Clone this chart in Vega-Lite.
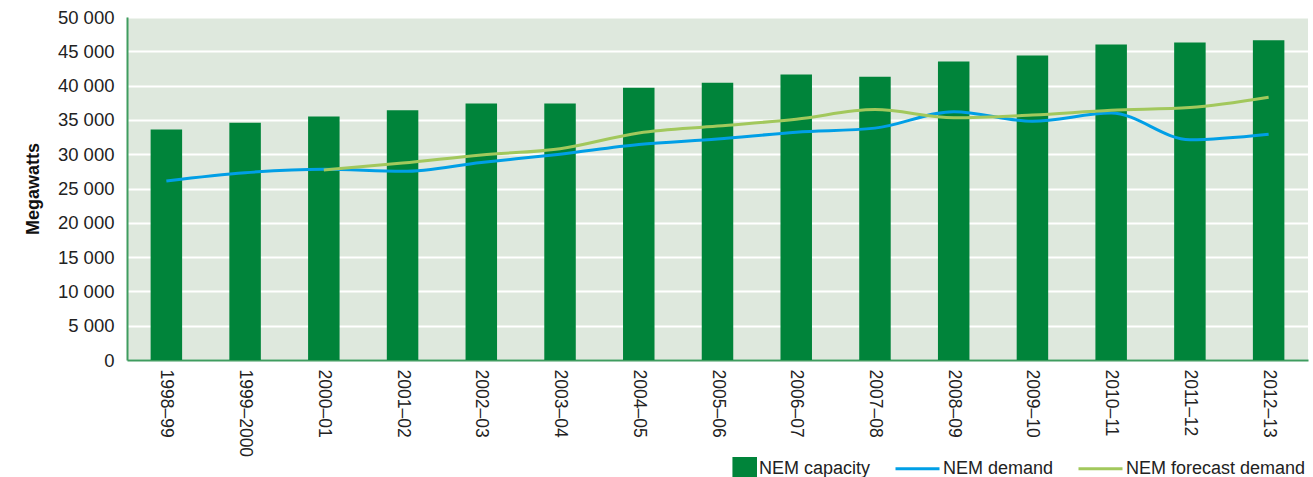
{
  "$schema": "https://vega.github.io/schema/vega-lite/v6.json",
  "width": 1181,
  "height": 343,
  "autosize": {"type": "none"},
  "padding": {"left": 127, "top": 17, "right": 5, "bottom": 117},
  "background": "white",
  "config": {
    "font": "Liberation Sans",
    "view": {"fill": "#dee8dd", "stroke": null}
  },
  "data": {
    "values": [
      {"year": "1998–99", "series": "NEM capacity", "value": 33600},
      {"year": "1999–2000", "series": "NEM capacity", "value": 34600},
      {"year": "2000–01", "series": "NEM capacity", "value": 35500},
      {"year": "2001–02", "series": "NEM capacity", "value": 36400},
      {"year": "2002–03", "series": "NEM capacity", "value": 37400},
      {"year": "2003–04", "series": "NEM capacity", "value": 37400},
      {"year": "2004–05", "series": "NEM capacity", "value": 39700},
      {"year": "2005–06", "series": "NEM capacity", "value": 40400},
      {"year": "2006–07", "series": "NEM capacity", "value": 41600},
      {"year": "2007–08", "series": "NEM capacity", "value": 41300},
      {"year": "2008–09", "series": "NEM capacity", "value": 43500},
      {"year": "2009–10", "series": "NEM capacity", "value": 44400},
      {"year": "2010–11", "series": "NEM capacity", "value": 46000},
      {"year": "2011–12", "series": "NEM capacity", "value": 46300},
      {"year": "2012–13", "series": "NEM capacity", "value": 46600},
      {"year": "1998–99", "series": "NEM demand", "value": 26100},
      {"year": "1999–2000", "series": "NEM demand", "value": 27300},
      {"year": "2000–01", "series": "NEM demand", "value": 27800},
      {"year": "2001–02", "series": "NEM demand", "value": 27500},
      {"year": "2002–03", "series": "NEM demand", "value": 28800},
      {"year": "2003–04", "series": "NEM demand", "value": 30000},
      {"year": "2004–05", "series": "NEM demand", "value": 31400},
      {"year": "2005–06", "series": "NEM demand", "value": 32200},
      {"year": "2006–07", "series": "NEM demand", "value": 33200},
      {"year": "2007–08", "series": "NEM demand", "value": 33800},
      {"year": "2008–09", "series": "NEM demand", "value": 36200},
      {"year": "2009–10", "series": "NEM demand", "value": 34800},
      {"year": "2010–11", "series": "NEM demand", "value": 36000},
      {"year": "2011–12", "series": "NEM demand", "value": 32100},
      {"year": "2012–13", "series": "NEM demand", "value": 32900},
      {"year": "2000–01", "series": "NEM forecast demand", "value": 27700},
      {"year": "2001–02", "series": "NEM forecast demand", "value": 28700},
      {"year": "2002–03", "series": "NEM forecast demand", "value": 29900},
      {"year": "2003–04", "series": "NEM forecast demand", "value": 30800},
      {"year": "2004–05", "series": "NEM forecast demand", "value": 33100},
      {"year": "2005–06", "series": "NEM forecast demand", "value": 34100},
      {"year": "2006–07", "series": "NEM forecast demand", "value": 35100},
      {"year": "2007–08", "series": "NEM forecast demand", "value": 36500},
      {"year": "2008–09", "series": "NEM forecast demand", "value": 35300},
      {"year": "2009–10", "series": "NEM forecast demand", "value": 35700},
      {"year": "2010–11", "series": "NEM forecast demand", "value": 36400},
      {"year": "2011–12", "series": "NEM forecast demand", "value": 36800},
      {"year": "2012–13", "series": "NEM forecast demand", "value": 38300}
    ]
  },
  "encoding": {
    "x": {
      "field": "year", "type": "nominal", "sort": null,
      "scale": {"paddingInner": 0.6, "paddingOuter": 0.3},
      "axis": {
        "title": null, "labelAngle": 90, "labelFontSize": 17.5, "labelColor": "#222",
        "labelPadding": 9, "ticks": false, "domainColor": "#3f9c5f", "domainWidth": 2,
        "labelFont": "Liberation Sans"
      }
    },
    "y": {
      "field": "value", "type": "quantitative",
      "scale": {"domain": [0, 50000], "nice": false},
      "axis": {
        "title": "Megawatts", "titleFontSize": 18, "titleFontWeight": "bold", "titleColor": "#111",
        "titlePadding": 15, "titleFont": "Liberation Sans",
        "values": [0, 5000, 10000, 15000, 20000, 25000, 30000, 35000, 40000, 45000, 50000],
        "labelExpr": "replace(format(datum.value, ','), ',', ' ')",
        "labelFontSize": 18.5, "labelColor": "#222", "labelPadding": 13, "ticks": false,
        "domainColor": "#3f9c5f", "domainWidth": 2,
        "gridColor": "white", "gridWidth": 2, "gridOpacity": 1, "labelFont": "Liberation Sans"
      }
    },
    "color": {
      "field": "series", "type": "nominal",
      "scale": {
        "domain": ["NEM capacity", "NEM demand", "NEM forecast demand"],
        "range": ["#00843a", "#009fe6", "#a2c85c"]
      },
      "legend": {
        "title": null, "orient": "none", "direction": "horizontal",
        "legendX": 583, "legendY": 428, "padding": 0,
        "symbolSize": 1936, "symbolStrokeWidth": 3, "columnPadding": 18, "labelOffset": 2,
        "labelLimit": 400,
        "labelFontSize": 18, "labelColor": "#222", "labelFont": "Liberation Sans",
        "encode": {
          "symbols": {
            "update": {
              "shape": {"signal": "datum.value === 'NEM capacity' ? 'M0.02,-0.48H1V0.48H0.02Z' : 'M-1,0H1M0,-0.5M0,0.5'"},
              "fill": {"signal": "datum.value === 'NEM capacity' ? '#00843a' : 'transparent'"},
              "stroke": {"signal": "datum.value === 'NEM capacity' ? 'transparent' : (datum.value === 'NEM demand' ? '#009fe6' : '#a2c85c')"},
              "strokeWidth": {"value": 3},
              "opacity": {"value": 1}
            }
          }
        }
      }
    }
  },
  "layer": [
    {
      "transform": [{"filter": "datum.series === 'NEM capacity'"}],
      "mark": {"type": "bar"}
    },
    {
      "transform": [{"filter": "datum.series !== 'NEM capacity'"}],
      "mark": {"type": "line", "interpolate": "monotone", "strokeWidth": 3}
    }
  ]
}
